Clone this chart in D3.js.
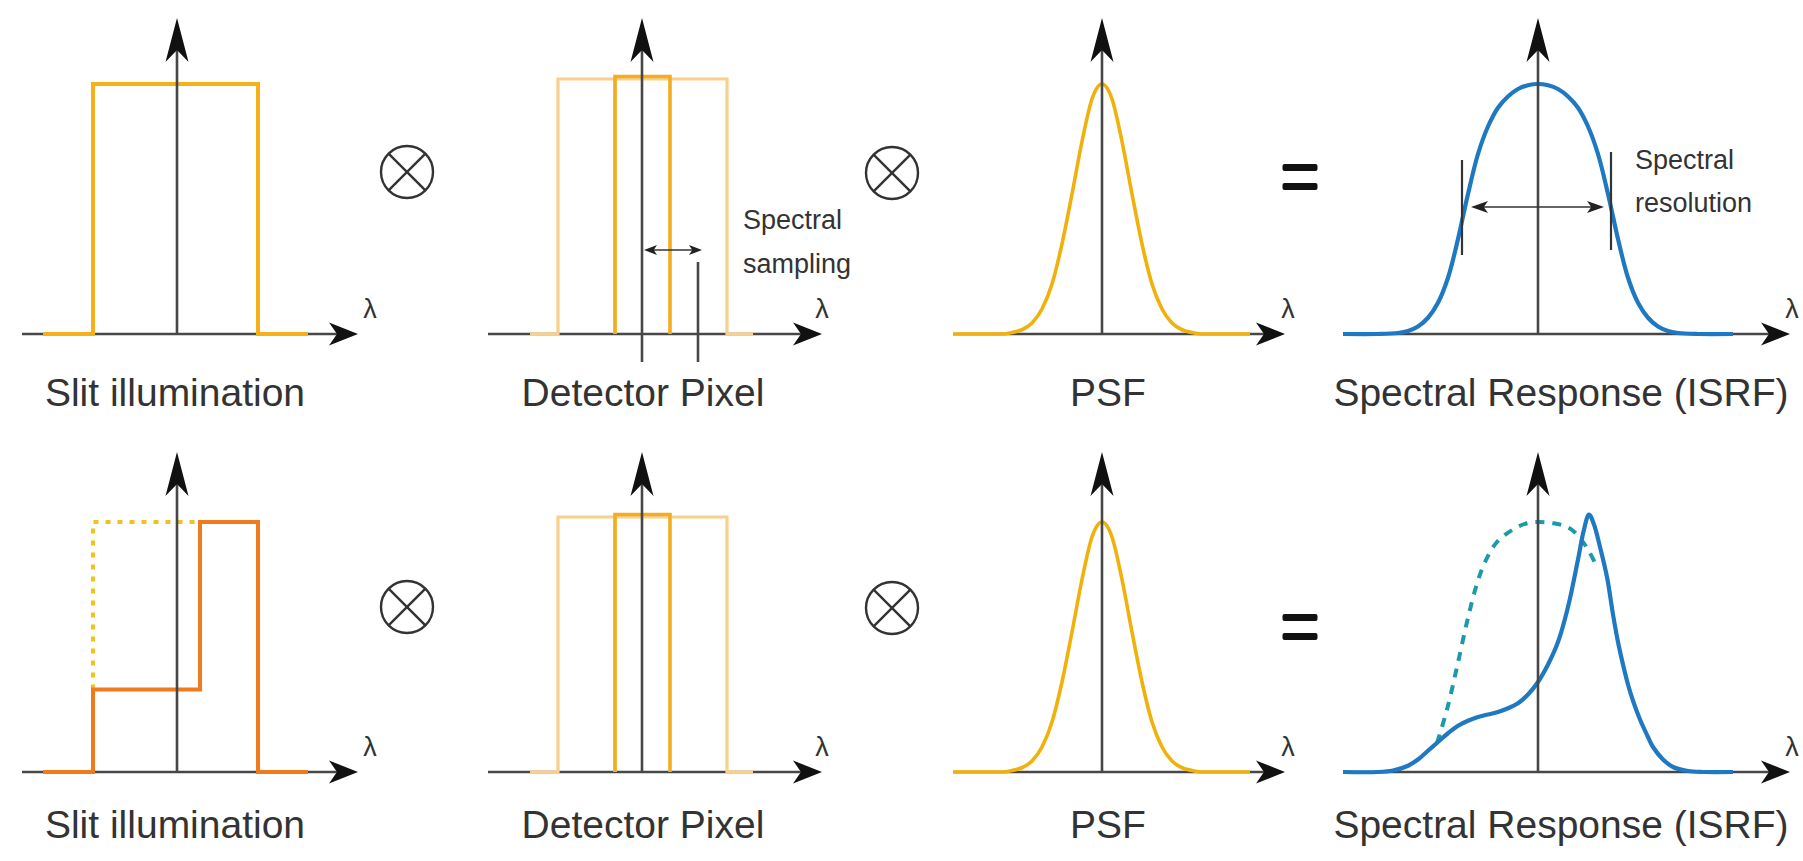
<!DOCTYPE html>
<html>
<head>
<meta charset="utf-8">
<script src="https://cdn.jsdelivr.net/npm/d3@7"></script>
<style>
  html, body { margin: 0; padding: 0; background: #ffffff; }
  svg { display: block; }
  text { font-family: "Liberation Sans", Arial, Helvetica, sans-serif; fill: #333; }
</style>
</head>
<body>
<svg id="chart" width="1803" height="861"></svg>
<script>
// ---------------- DATA (λ units relative to the panel centre, amplitude 0..1) ----------------
const panelLabels = ["Slit illumination", "Detector Pixel", "PSF", "Spectral Response (ISRF)"];
const operators = ["⊗", "⊗", "="];
const axisLabel = "λ";
const samplingLabel = ["Spectral", "sampling"];
const resolutionLabel = ["Spectral", "resolution"];

// Row 1 slit: uniform illumination
const slitUniform = [[-13.4, 0], [-8.4, 0], [-8.4, 1], [8.1, 1], [8.1, 0], [13.1, 0]];
// Row 2 slit: non-uniform illumination (solid) and the uniform reference (dashed)
const slitNonUniform = [[-13.4, 0], [-8.4, 0], [-8.4, 0.33], [2.3, 0.33], [2.3, 1], [8.1, 1], [8.1, 0], [13.1, 0]];
const slitReference = [[-8.4, 0.33], [-8.4, 1], [2.3, 1]];

// Detector pixels: neighbouring pixels (light) and the central pixel (dark)
const pixelNeighbours = [[-11.2, 0], [-8.4, 0], [-8.4, 1.02], [8.5, 1.02], [8.5, 0], [11.1, 0]];
const pixelNeighbourDivs = [[-2.7, 0], [-2.7, 1.02]];
const pixelCentral = [[-2.7, 0], [-2.7, 1.03], [2.8, 1.03], [2.8, 0]];

// PSF
const psfX = [-14.9, -10, -9, -8, -7, -6, -5, -4, -3, -2, -1, 0, 1, 2, 3, 4, 5, 6, 7, 8, 9, 10, 14.8];
const psfY = [0, 0, 0.006, 0.017, 0.044, 0.10, 0.20, 0.36, 0.56, 0.77, 0.94, 1.0, 0.94, 0.77, 0.56, 0.36, 0.20, 0.10, 0.044, 0.017, 0.006, 0, 0];

// ISRF row 1 (symmetric, dome-shaped top)
const isrf1X = [-19.5, -16, -14, -13, -12, -11, -10, -9, -8, -7.5, -7, -6, -5, -4, -3, -2, -1, 0, 1, 2, 3, 4, 5, 6, 7, 7.5, 8, 9, 10, 11, 12, 13, 14, 16, 19.5];
const isrf1Y = [0, 0, 0.004, 0.012, 0.03, 0.065, 0.125, 0.225, 0.38, 0.47, 0.56, 0.72, 0.83, 0.905, 0.95, 0.98, 0.995, 1.0, 0.995, 0.98, 0.95, 0.905, 0.83, 0.72, 0.56, 0.47, 0.38, 0.225, 0.125, 0.065, 0.03, 0.012, 0.004, 0, 0];

// ISRF row 2 (distorted by non-uniform slit illumination) and its uniform reference (dashed)
const isrf2X = [-19.5, -16, -14.5, -13, -12, -11, -10, -9, -8, -7, -6, -5, -4, -3, -2, -1, 0, 1, 2, 3, 4, 4.6, 5.1, 5.6, 6.2, 6.9, 7.5, 8.0, 8.5, 9.0, 9.5, 10.2, 11, 11.5, 12.5, 13.5, 15, 16.5, 19.5];
const isrf2Y = [0, 0, 0.006, 0.025, 0.05, 0.085, 0.12, 0.155, 0.185, 0.205, 0.22, 0.23, 0.24, 0.255, 0.275, 0.31, 0.36, 0.43, 0.52, 0.66, 0.85, 0.97, 1.03, 0.99, 0.9, 0.78, 0.63, 0.52, 0.43, 0.35, 0.285, 0.21, 0.14, 0.10, 0.05, 0.02, 0.004, 0, 0];
const isrfRefX = [-10.1, -9.1, -8.1, -7.1, -6.2, -5.3, -4.1, -2.5, -1.1, 0.2, 1.5, 2.6, 3.5, 4.3, 5.0, 5.9];
const isrfRefY = [0.116, 0.25, 0.42, 0.60, 0.74, 0.84, 0.92, 0.97, 0.995, 1.0, 0.995, 0.985, 0.965, 0.93, 0.89, 0.82];

// ---------------- LAYOUT ----------------
const svg = d3.select("#chart");
const UNIT = 10; // px per λ unit
const AMP = 250; // px per amplitude unit

const colors = {
  axis: "#474747",
  slit: "#f5b11c",
  slitOrange: "#f07b1e",
  slitDashed: "#efc21c",
  pixelLight: "#f9cf8c",
  pixelDark: "#f3ad1e",
  psf: "#f0b10c",
  isrf: "#1f78c2",
  isrfDashed: "#1b9aa8"
};

// panel positions: centre x, axis span, baseline per row
const cols = [
  { cx: 177, x0: -15.5, x1: 18.1, lblX: 175, lamX: 370 },
  { cx: 642, x0: -15.4, x1: 18.0, lblX: 643, lamX: 822 },
  { cx: 1102, x0: -14.9, x1: 18.3, lblX: 1108, lamX: 1288 },
  { cx: 1538, x0: -19.5, x1: 25.2, lblX: 1561, lamX: 1792 }
];
const rows = [
  { base: 334, tip: 18, lblY: 406, lamY: 318, opY: [172, 173, 177] },
  { base: 772, tip: 452, lblY: 838, lamY: 756, opY: [607, 608, 627] }
];
const opX = [407, 892, 1300];

function scales(c, r) {
  const x = d3.scaleLinear().domain([0, 1]).range([c.cx, c.cx + UNIT]);
  const y = d3.scaleLinear().domain([0, 1]).range([r.base, r.base - AMP]);
  return { x, y };
}

function drawXAxis(g, s, c) {
  const y0 = s.y(0);
  const xa = s.x(c.x0), xb = s.x(c.x1);
  g.append("line").attr("x1", xa).attr("x2", xb - 18).attr("y1", y0).attr("y2", y0)
    .attr("stroke", colors.axis).attr("stroke-width", 2.6);
  g.append("path")
    .attr("d", `M${xb},${y0} L${xb - 29},${y0 - 11.5} L${xb - 21},${y0} L${xb - 29},${y0 + 11.5} Z`)
    .attr("fill", "#111");
}
function drawYAxis(g, s, r, extendBelow) {
  const cx = s.x(0);
  const bottom = r.base + (extendBelow || 0);
  g.append("line").attr("x1", cx).attr("x2", cx).attr("y1", bottom).attr("y2", r.tip + 25)
    .attr("stroke", colors.axis).attr("stroke-width", 2.6);
  g.append("path")
    .attr("d", `M${cx},${r.tip} L${cx + 11.5},${r.tip + 44} L${cx},${r.tip + 32} L${cx - 11.5},${r.tip + 44} Z`)
    .attr("fill", "#111");
}
function drawLine(g, s, pts, color, width, dash, curve) {
  const line = d3.line().x(d => s.x(d[0])).y(d => s.y(d[1])).curve(curve || d3.curveLinear);
  const p = g.append("path").attr("d", line(pts)).attr("fill", "none")
    .attr("stroke", color).attr("stroke-width", width)
    .attr("stroke-linejoin", "miter").attr("stroke-linecap", "butt");
  if (dash) p.attr("stroke-dasharray", dash);
  return p;
}
const zip = (xs, ys) => xs.map((v, i) => [v, ys[i]]);

function doubleArrow(g, xa, xb, y, len, half, w) {
  g.append("line").attr("x1", xa + len * 0.6).attr("x2", xb - len * 0.6).attr("y1", y).attr("y2", y)
    .attr("stroke", "#333").attr("stroke-width", w);
  g.append("path").attr("d", `M${xa},${y} L${xa + len},${y - half} L${xa + len * 0.75},${y} L${xa + len},${y + half} Z`).attr("fill", "#222");
  g.append("path").attr("d", `M${xb},${y} L${xb - len},${y - half} L${xb - len * 0.75},${y} L${xb - len},${y + half} Z`).attr("fill", "#222");
}

rows.forEach((r, ri) => {
  cols.forEach((c, ci) => {
    const g = svg.append("g");
    const s = scales(c, r);
    drawXAxis(g, s, c);

    if (ci === 0) {
      if (ri === 0) {
        drawLine(g, s, slitUniform, colors.slit, 4);
      } else {
        drawLine(g, s, slitReference, colors.slitDashed, 4, "5,7");
        drawLine(g, s, slitNonUniform, colors.slitOrange, 4);
      }
      drawYAxis(g, s, r);
    } else if (ci === 1) {
      drawLine(g, s, pixelNeighbours, colors.pixelLight, 3.2);
      drawLine(g, s, pixelNeighbourDivs, colors.pixelLight, 3.2);
      drawLine(g, s, pixelCentral, colors.pixelDark, 3.6);
      drawYAxis(g, s, r, ri === 0 ? 28 : 0);
      if (ri === 0) {
        // spectral sampling annotation
        g.append("line").attr("x1", s.x(5.6)).attr("x2", s.x(5.6)).attr("y1", 262).attr("y2", 362)
          .attr("stroke", colors.axis).attr("stroke-width", 2.6);
        doubleArrow(g, s.x(0.2), s.x(6.0), 250, 13, 5, 1.6);
        const t = g.append("text").attr("font-size", 27);
        t.append("tspan").attr("x", 743).attr("y", 229).text(samplingLabel[0]);
        t.append("tspan").attr("x", 743).attr("y", 273).text(samplingLabel[1]);
      }
    } else if (ci === 2) {
      drawLine(g, s, zip(psfX, psfY), colors.psf, 3.6, null, d3.curveMonotoneX);
      drawYAxis(g, s, r);
    } else {
      if (ri === 0) {
        drawLine(g, s, zip(isrf1X, isrf1Y), colors.isrf, 4.2, null, d3.curveCatmullRom.alpha(0.5));
        drawYAxis(g, s, r);
        // spectral resolution annotation (FWHM)
        g.append("line").attr("x1", s.x(-7.6)).attr("x2", s.x(-7.6)).attr("y1", 160).attr("y2", 255)
          .attr("stroke", "#333").attr("stroke-width", 2.2);
        g.append("line").attr("x1", s.x(7.3)).attr("x2", s.x(7.3)).attr("y1", 152).attr("y2", 250)
          .attr("stroke", "#333").attr("stroke-width", 2.2);
        doubleArrow(g, s.x(-6.7), s.x(6.6), 207, 17, 6, 1.6);
        const t = g.append("text").attr("font-size", 27);
        t.append("tspan").attr("x", 1635).attr("y", 169).text(resolutionLabel[0]);
        t.append("tspan").attr("x", 1635).attr("y", 212).text(resolutionLabel[1]);
      } else {
        drawLine(g, s, zip(isrfRefX, isrfRefY), colors.isrfDashed, 4, "9,8", d3.curveCatmullRom.alpha(0.5));
        drawLine(g, s, zip(isrf2X, isrf2Y), colors.isrf, 4.2, null, d3.curveCatmullRom.alpha(0.5));
        drawYAxis(g, s, r);
      }
    }

    // λ label
    g.append("text").attr("x", c.lamX).attr("y", r.lamY).attr("text-anchor", "middle")
      .attr("font-size", 27).text(axisLabel);
    // panel label
    g.append("text").attr("x", c.lblX).attr("y", r.lblY).attr("text-anchor", "middle")
      .attr("font-size", 39).text(panelLabels[ci]);
  });

  // operators
  opX.forEach((ox, oi) => {
    const oy = r.opY[oi];
    const g = svg.append("g");
    if (operators[oi] === "⊗") {
      g.append("circle").attr("cx", ox).attr("cy", oy).attr("r", 26)
        .attr("fill", "none").attr("stroke", "#333").attr("stroke-width", 2.4);
      const d = 26 * Math.SQRT1_2;
      g.append("line").attr("x1", ox - d).attr("y1", oy - d).attr("x2", ox + d).attr("y2", oy + d)
        .attr("stroke", "#333").attr("stroke-width", 2.4);
      g.append("line").attr("x1", ox - d).attr("y1", oy + d).attr("x2", ox + d).attr("y2", oy - d)
        .attr("stroke", "#333").attr("stroke-width", 2.4);
    } else {
      [-9.5, 9.5].forEach(dy => g.append("rect").attr("x", ox - 17.5).attr("y", oy + dy - 3.5)
        .attr("width", 35).attr("height", 7).attr("rx", 2).attr("fill", "#111"));
    }
  });
});
</script>
</body>
</html>
